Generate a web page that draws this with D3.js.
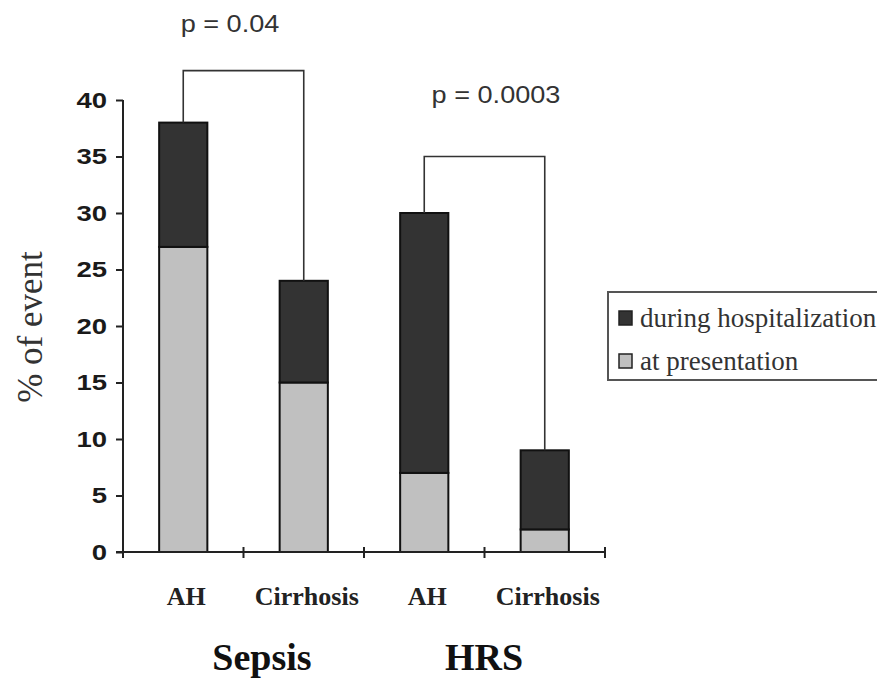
<!DOCTYPE html>
<html>
<head>
<meta charset="utf-8">
<script src="https://cdn.jsdelivr.net/npm/d3@7"></script>
<style>
  html, body { margin: 0; padding: 0; background: #fff; }
  svg { display: block; }
</style>
</head>
<body>
<svg id="chart" width="877" height="682"></svg>
<script>
// Event rates (%) by group, split by timing of the event
const categories = ["AH", "Cirrhosis", "AH", "Cirrhosis"];
const groups = ["Sepsis", "HRS"];
const atPresentation = [27, 15, 7, 2];
const duringHospitalization = [11, 9, 23, 7];
const seriesNames = ["during hospitalization", "at presentation"];
const yTicks = [0, 5, 10, 15, 20, 25, 30, 35, 40];
// Significance brackets: bar indices joined, bracket height (% units), label
const bracketFrom = [0, 2];
const bracketTo = [1, 3];
const bracketLevel = [42.6, 35];
const bracketLabels = ["p = 0.04", "p = 0.0003"];

const svg = d3.select("#chart");
const plotLeft = 123, plotRight = 605, plotTop = 100, plotBottom = 552;

const x = d3.scaleBand().domain(d3.range(categories.length)).range([plotLeft, plotRight]).padding(0);
const y = d3.scaleLinear().domain([0, 40]).range([plotBottom, plotTop]);
const barW = x.bandwidth() * 0.4;
const cx = i => x(i) + x.bandwidth() / 2;

const darkFill = "#333333", lightFill = "#c0c0c0";

// Stacked bars
const bars = svg.append("g");
categories.forEach((c, i) => {
  const low = atPresentation[i], total = atPresentation[i] + duringHospitalization[i];
  bars.append("rect")
    .attr("x", cx(i) - barW / 2).attr("width", barW)
    .attr("y", y(low)).attr("height", y(0) - y(low))
    .attr("fill", lightFill).attr("stroke", "#111").attr("stroke-width", 2);
  bars.append("rect")
    .attr("x", cx(i) - barW / 2).attr("width", barW)
    .attr("y", y(total)).attr("height", y(low) - y(total))
    .attr("fill", darkFill).attr("stroke", "#111").attr("stroke-width", 2);
});

// Y axis
const yAxis = svg.append("g")
  .attr("transform", `translate(${plotLeft},0)`)
  .call(d3.axisLeft(y).tickValues(yTicks).tickSize(7).tickPadding(9).tickSizeOuter(0));
yAxis.select(".domain").attr("stroke", "#222").attr("stroke-width", 2)
  .attr("d", `M0,${plotTop}V${plotBottom + 6}`);
yAxis.selectAll(".tick line").attr("stroke", "#222").attr("stroke-width", 2);
yAxis.selectAll(".tick text")
  .attr("font-family", "Liberation Sans, Arial, sans-serif")
  .attr("font-weight", "bold").attr("font-size", 22).attr("fill", "#1a1a1a")
  .attr("x", -16 / 1.25)
  .attr("transform", "scale(1.25,1)");

// X axis baseline with band-boundary ticks
const xAxis = svg.append("g").attr("transform", `translate(0,${y(0)})`);
xAxis.append("line").attr("x1", plotLeft - 7).attr("x2", plotRight)
  .attr("stroke", "#222").attr("stroke-width", 2);
const bounds = d3.range(1, categories.length + 1).map(i => x(i - 1) + x.bandwidth());
xAxis.selectAll("line.tk").data(bounds).join("line").attr("class", "tk")
  .attr("x1", d => d).attr("x2", d => d).attr("y1", -5).attr("y2", 6)
  .attr("stroke", "#222").attr("stroke-width", 2);

// Category labels
svg.append("g").selectAll("text").data(categories).join("text")
  .attr("x", (d, i) => cx(i) + 3)
  .attr("y", 605)
  .attr("text-anchor", "middle")
  .attr("font-family", "Liberation Serif, Times New Roman, serif")
  .attr("font-weight", "bold").attr("font-size", 26).attr("fill", "#222")
  .text(d => d);

// Group labels
svg.append("g").selectAll("text").data(groups).join("text")
  .attr("x", (d, i) => (i === 0 ? 262 : 484))
  .attr("y", 670)
  .attr("text-anchor", "middle")
  .attr("font-family", "Liberation Serif, Times New Roman, serif")
  .attr("font-weight", "bold").attr("font-size", 38).attr("fill", "#111")
  .text(d => d);

// Y axis title
svg.append("text")
  .attr("transform", "translate(42,327) rotate(-90)")
  .attr("text-anchor", "middle")
  .attr("font-family", "Liberation Serif, Times New Roman, serif")
  .attr("font-size", 35).attr("fill", "#333")
  .text("% of event");

// Significance brackets
const br = svg.append("g");
bracketFrom.forEach((a, k) => {
  const b = bracketTo[k];
  const ta = atPresentation[a] + duringHospitalization[a];
  const tb = atPresentation[b] + duringHospitalization[b];
  const lv = y(bracketLevel[k]);
  br.append("path")
    .attr("d", `M${cx(a)},${y(ta)}V${lv}H${cx(b)}V${y(tb)}`)
    .attr("fill", "none").attr("stroke", "#333").attr("stroke-width", 1.6);
});
const pLabelX = [230, 496];
const pLabelY = [32, 103];
br.selectAll("text").data(bracketLabels).join("text")
  .attr("transform", (d, k) => `translate(${pLabelX[k]},${pLabelY[k]}) scale(1.13,1)`)
  .attr("text-anchor", "middle")
  .attr("font-family", "Liberation Sans, Arial, sans-serif")
  .attr("font-size", 24).attr("fill", "#333")
  .text(d => d);

// Legend (box runs past the right edge)
const lg = svg.append("g");
lg.append("rect").attr("x", 608).attr("y", 292).attr("width", 300).attr("height", 88)
  .attr("fill", "#fff").attr("stroke", "#555").attr("stroke-width", 2);
const legendFills = [darkFill, lightFill];
const legendRows = [327, 370];
seriesNames.forEach((s, k) => {
  lg.append("rect").attr("x", 619).attr("y", legendRows[k] - 16).attr("width", 13).attr("height", 14)
    .attr("fill", legendFills[k]).attr("stroke", "#222").attr("stroke-width", 1.5);
  lg.append("text").attr("x", 640).attr("y", legendRows[k])
    .attr("font-family", "Liberation Serif, Times New Roman, serif")
    .attr("font-size", 27).attr("fill", "#333")
    .text(s);
});
</script>
</body>
</html>
